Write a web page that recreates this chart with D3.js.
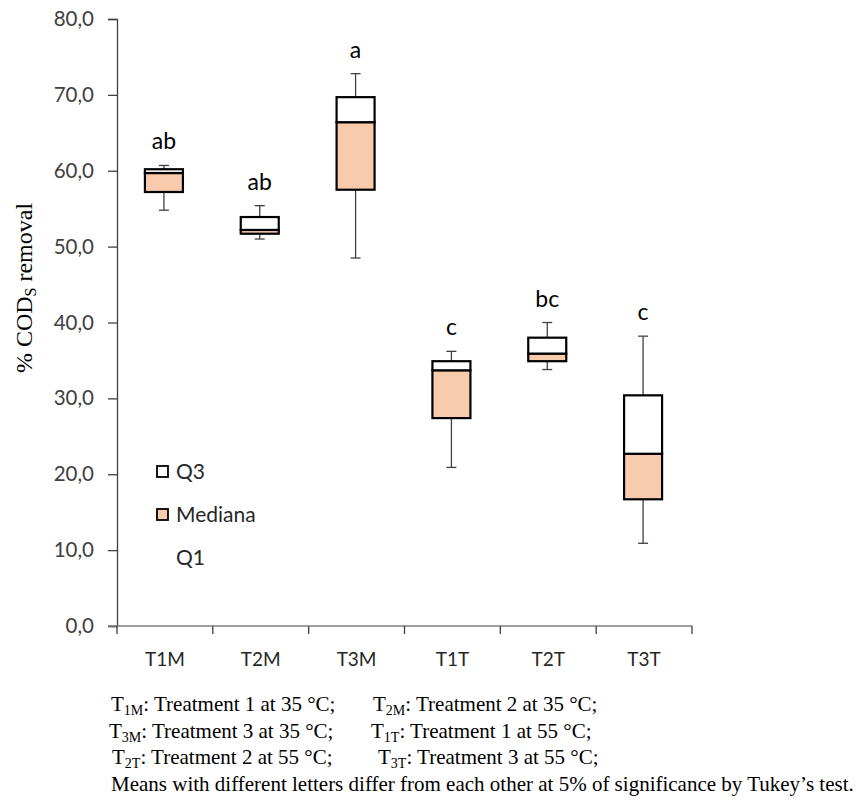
<!DOCTYPE html>
<html>
<head>
<meta charset="utf-8">
<script src="https://cdn.jsdelivr.net/npm/d3@7"></script>
<style>
  body { margin: 0; background: #fff; }
  svg { display: block; }
</style>
</head>
<body>
<div id="chart"></div>
<script>
// chart data
const categories = ["T1M", "T2M", "T3M", "T1T", "T2T", "T3T"];
const whiskerLow = [54.8, 51.0, 48.5, 20.9, 33.8, 10.9];
const q1 = [57.2, 51.7, 57.5, 27.4, 34.9, 16.7];
const median = [59.7, 52.2, 66.4, 33.7, 35.9, 22.7];
const q3 = [60.2, 53.9, 69.7, 34.9, 38.0, 30.4];
const whiskerHigh = [60.7, 55.4, 72.8, 36.2, 40.0, 38.2];
const letters = ["ab", "ab", "a", "c", "bc", "c"];
const yTicks = [0, 10, 20, 30, 40, 50, 60, 70, 80];

const captionRows = [
    [["T", "1M", ": Treatment 1 at 35 °C;"], ["T", "2M", ": Treatment 2 at 35 °C;"]],
    [["T", "3M", ": Treatment 3 at 35 °C;"], ["T", "1T", ": Treatment 1 at 55 °C;"]],
    [["T", "2T", ": Treatment 2 at 55 °C;"], ["T", "3T", ": Treatment 3 at 55 °C;"]]
];
const captionNote = "Means with different letters differ from each other at 5% of significance by Tukey\u2019s test.";

const width = 862;
const height = 803;
const margin = {top: 19, left: 117, right: 170, bottom: 177};

const peach = "#F8CBAD";
const sans = "Lato, 'Open Sans', sans-serif";
const serif = "'Liberation Serif', 'Times New Roman', serif";

const data = categories.map((c, i) => ({
    cat: c,
    lo: whiskerLow[i],
    q1: q1[i],
    med: median[i],
    q3: q3[i],
    hi: whiskerHigh[i],
    letter: letters[i]
}));

const svg = d3.select("#chart").append("svg")
    .attr("width", width)
    .attr("height", height)
    .attr("viewBox", `0 0 ${width} ${height}`);

const x = d3.scaleBand()
    .domain(categories)
    .range([margin.left, width - margin.right])
    .padding(0);

const y = d3.scaleLinear()
    .domain([0, 80])
    .range([height - margin.bottom, margin.top]);

// y axis
const yAxis = svg.append("g")
    .attr("transform", `translate(${margin.left},0)`)
    .call(d3.axisLeft(y).tickValues(yTicks).tickSize(9).tickPadding(14)
        .tickFormat(d => d3.format(".1f")(d).replace(".", ",")));
yAxis.select(".domain").attr("stroke", "#404040").attr("stroke-width", 1.3);
yAxis.selectAll(".tick line").attr("stroke", "#404040").attr("stroke-width", 1.3);
yAxis.selectAll(".tick text")
    .attr("font-family", sans)
    .attr("font-size", 20.5)
    .attr("fill", "#404040");

// x axis: ticks at band edges, labels at band centers
const xg = svg.append("g").attr("transform", `translate(0,${y(0)})`);
xg.append("line")
    .attr("x1", margin.left - 9)
    .attr("x2", width - margin.right)
    .attr("stroke", "#808080")
    .attr("stroke-width", 1.3);
const edges = categories.map(c => x(c)).concat([x.range()[1]]);
xg.selectAll(".edge")
    .data(edges)
    .join("line")
    .attr("class", "edge")
    .attr("x1", d => d).attr("x2", d => d)
    .attr("y1", 0).attr("y2", 8)
    .attr("stroke", "#404040")
    .attr("stroke-width", 1.3);
xg.selectAll(".cat")
    .data(categories)
    .join("text")
    .attr("class", "cat")
    .attr("x", d => x(d) + x.bandwidth() / 2)
    .attr("y", 40)
    .attr("text-anchor", "middle")
    .attr("font-family", sans)
    .attr("font-size", 19)
    .attr("fill", "#262626")
    .text(d => d);

// y axis title
const ytitle = svg.append("text")
    .attr("transform", `translate(32,288) rotate(-90)`)
    .attr("text-anchor", "middle")
    .attr("font-family", serif)
    .attr("font-size", 24)
    .attr("fill", "#000");
ytitle.append("tspan").text("% COD");
ytitle.append("tspan").attr("font-size", 16).attr("dy", 4).text("S");
ytitle.append("tspan").attr("dy", -4).text(" removal");

// boxes
const boxW = 38;
const capW = 10;
const boxes = svg.append("g").selectAll("g")
    .data(data)
    .join("g")
    .attr("transform", d => `translate(${x(d.cat) + x.bandwidth() / 2 - 1},0)`);

boxes.append("line")
    .attr("x1", 0).attr("x2", 0)
    .attr("y1", d => y(d.hi)).attr("y2", d => y(d.q3))
    .attr("stroke", "#404040").attr("stroke-width", 1.3);
boxes.append("line")
    .attr("x1", 0).attr("x2", 0)
    .attr("y1", d => y(d.q1)).attr("y2", d => y(d.lo))
    .attr("stroke", "#404040").attr("stroke-width", 1.3);
boxes.append("line")
    .attr("x1", -capW / 2).attr("x2", capW / 2)
    .attr("y1", d => y(d.hi)).attr("y2", d => y(d.hi))
    .attr("stroke", "#404040").attr("stroke-width", 1.3);
boxes.append("line")
    .attr("x1", -capW / 2).attr("x2", capW / 2)
    .attr("y1", d => y(d.lo)).attr("y2", d => y(d.lo))
    .attr("stroke", "#404040").attr("stroke-width", 1.3);

// lower part (Q1 -> median), peach
boxes.append("rect")
    .attr("x", -boxW / 2)
    .attr("width", boxW)
    .attr("y", d => y(d.med))
    .attr("height", d => y(d.q1) - y(d.med))
    .attr("fill", peach)
    .attr("stroke", "#000")
    .attr("stroke-width", 2.2);
// upper part (median -> Q3), white
boxes.append("rect")
    .attr("x", -boxW / 2)
    .attr("width", boxW)
    .attr("y", d => y(d.q3))
    .attr("height", d => y(d.med) - y(d.q3))
    .attr("fill", "#fff")
    .attr("stroke", "#000")
    .attr("stroke-width", 2.2);

boxes.append("text")
    .attr("y", d => y(d.hi) - 16)
    .attr("text-anchor", "middle")
    .attr("font-family", sans)
    .attr("font-size", 23)
    .attr("fill", "#000")
    .text(d => d.letter);

// legend
const legendItems = [
    {label: "Q3", fill: "#fff", swatch: true},
    {label: "Mediana", fill: peach, swatch: true},
    {label: "Q1", fill: "none", swatch: false}
];
const legend = svg.append("g").attr("transform", "translate(157,466)");
const li = legend.selectAll("g")
    .data(legendItems)
    .join("g")
    .attr("transform", (d, i) => `translate(0,${i * 43})`);
li.filter(d => d.swatch).append("rect")
    .attr("width", 11).attr("height", 11)
    .attr("fill", d => d.fill)
    .attr("stroke", "#000")
    .attr("stroke-width", 1.8);
li.append("text")
    .attr("x", 19)
    .attr("y", 13)
    .attr("font-family", sans)
    .attr("font-size", 21)
    .attr("fill", "#262626")
    .text(d => d.label);

// caption
const capX = [[111, 373], [109, 371], [112, 378]];
const capY = [711, 738, 764];
captionRows.forEach((row, r) => {
    row.forEach((part, k) => {
        const t = svg.append("text")
            .attr("x", capX[r][k])
            .attr("y", capY[r])
            .attr("font-family", serif)
            .attr("font-size", 21)
            .attr("fill", "#000");
        t.append("tspan").text(part[0]);
        t.append("tspan").attr("font-size", 14).attr("dy", 4).text(part[1]);
        t.append("tspan").attr("dy", -4).text(part[2]);
    });
});
svg.append("text")
    .attr("x", 111)
    .attr("y", 791)
    .attr("font-family", serif)
    .attr("font-size", 21)
    .attr("fill", "#000")
    .text(captionNote);
</script>
</body>
</html>
